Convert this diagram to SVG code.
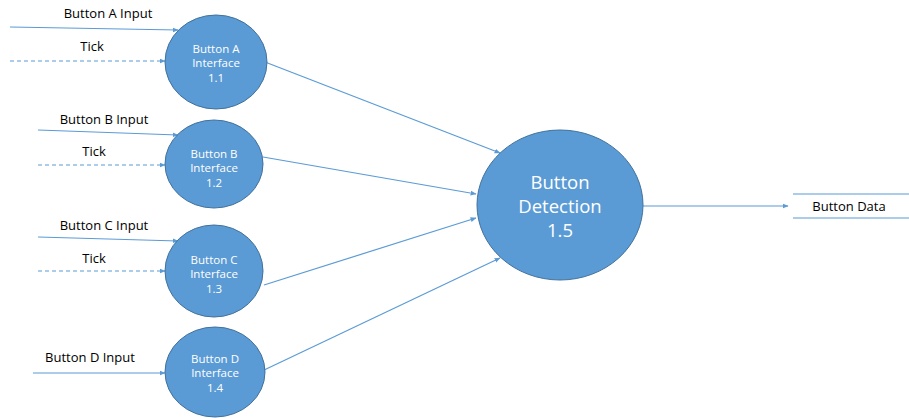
<svg xmlns="http://www.w3.org/2000/svg" width="909" height="418" viewBox="0 0 909 418">
<style>
.node{fill:#5b9bd5;stroke:#41719c;stroke-width:1}
.nt{fill:#ffffff;font-family:"Open Sans","Noto Sans",sans-serif;font-size:11.5px;text-anchor:middle}
.bt{fill:#ffffff;font-family:"Open Sans","Noto Sans",sans-serif;font-size:18.5px;text-anchor:middle}
.lb{fill:#000000;font-family:"Open Sans","Noto Sans",sans-serif;font-size:13px;text-anchor:middle}
.flow{fill:none;stroke:#5b9bd5;stroke-width:1.2;marker-end:url(#ah)}
.dash{stroke-dasharray:4 3}
.store{stroke:#5b9bd5;stroke-width:1.2}
</style>
<defs>
<marker id="ah" viewBox="0 0 10 10" refX="9" refY="5" markerWidth="6" markerHeight="6" orient="auto" markerUnits="userSpaceOnUse">
<path d="M0,1 L10,5 L0,9 z" fill="#5b9bd5"/>
</marker>
</defs>
<rect width="909" height="418" fill="#ffffff"/>
<g id="connectors">
<line class="flow" x1="10" y1="27" x2="178" y2="30"/>
<line class="flow dash" x1="10" y1="61" x2="165" y2="61"/>
<line class="flow" x1="38" y1="130" x2="178" y2="135"/>
<line class="flow dash" x1="38" y1="165" x2="165" y2="165"/>
<line class="flow" x1="38" y1="237" x2="178" y2="241"/>
<line class="flow dash" x1="38" y1="271" x2="165" y2="271"/>
<line class="flow" x1="33" y1="373" x2="165" y2="373"/>
<line class="flow" x1="265" y1="62" x2="500" y2="153"/>
<line class="flow" x1="263" y1="157" x2="476" y2="194"/>
<line class="flow" x1="264" y1="285" x2="476" y2="218"/>
<line class="flow" x1="262" y1="371" x2="500" y2="258"/>
<line class="flow" x1="643" y1="206" x2="788" y2="206"/>
<text class="lb" x="108" y="18">Button A Input</text>
<text class="lb" x="92" y="51">Tick</text>
<text class="lb" x="104" y="124">Button B Input</text>
<text class="lb" x="94" y="156">Tick</text>
<text class="lb" x="104" y="230">Button C Input</text>
<text class="lb" x="94" y="263">Tick</text>
<text class="lb" x="90" y="362">Button D Input</text>
</g>
<g id="nodeA">
<ellipse class="node" cx="216" cy="62" rx="51" ry="47"/>
<text class="nt" x="216" y="53">Button A</text>
<text class="nt" x="216" y="67">Interface</text>
<text class="nt" x="216" y="82">1.1</text>
</g>
<g id="nodeB">
<ellipse class="node" cx="214" cy="164" rx="49" ry="44"/>
<text class="nt" x="214" y="158">Button B</text>
<text class="nt" x="214" y="172">Interface</text>
<text class="nt" x="214" y="187">1.2</text>
</g>
<g id="nodeC">
<ellipse class="node" cx="214" cy="271" rx="49" ry="46"/>
<text class="nt" x="214" y="264">Button C</text>
<text class="nt" x="214" y="278">Interface</text>
<text class="nt" x="214" y="293">1.3</text>
</g>
<g id="nodeD">
<ellipse class="node" cx="215" cy="372" rx="50" ry="45"/>
<text class="nt" x="215" y="363">Button D</text>
<text class="nt" x="215" y="377">Interface</text>
<text class="nt" x="215" y="392">1.4</text>
</g>
<g id="nodeE">
<ellipse class="node" cx="560" cy="205" rx="83" ry="75"/>
<text class="bt" x="560" y="189">Button</text>
<text class="bt" x="560" y="213">Detection</text>
<text class="bt" x="560" y="237">1.5</text>
</g>
<g id="store">
<line class="store" x1="793" y1="194" x2="909" y2="194"/>
<line class="store" x1="793" y1="218" x2="909" y2="218"/>
<text class="lb" x="849" y="211">Button Data</text>
</g>
</svg>
